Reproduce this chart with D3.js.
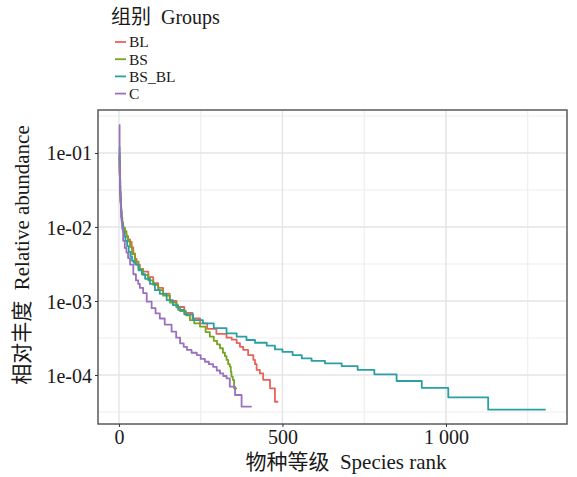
<!DOCTYPE html>
<html><head><meta charset="utf-8">
<script src="https://cdn.jsdelivr.net/npm/d3@7"></script>
<style>
html,body{margin:0;padding:0;background:#fff;}
svg text{font-family:"Liberation Serif","Times New Roman","Noto Sans CJK SC",serif;fill:#1a1a1a;white-space:pre;}
</style></head>
<body><svg id="c" width="577" height="477"></svg>
<script>
const groups = ["BL","BS","BS_BL","C"];
const colors = ["#E8625A","#73A61C","#2A9FA4","#9A70BF"];
const xTicks = [0,500,1000];
const xTickLabels = ["0","500","1 000"];
const xMinor = [250,750,1250];
const yTicks = [1e-1,1e-2,1e-3,1e-4];
const yTickLabels = ["1e-01","1e-02","1e-03","1e-04"];
const yMinor = [Math.pow(10,-0.5),Math.pow(10,-1.5),Math.pow(10,-2.5),Math.pow(10,-3.5),Math.pow(10,-4.5)];

// [rank, relative abundance] (value holds until next rank)
const BL = [[1,0.09],[2,0.05],[3,0.035],[4,0.026],[5,0.021],[6,0.017],[8,0.013],[10,0.011],[13,0.0095],[18,0.0082],[23,0.0074],[28,0.0068],[34,0.0063],[39,0.0053],[44,0.0044],[49,0.0037],[54,0.0031],[64,0.0027],[74,0.0025],[90,0.0021],[105,0.00174],[120,0.0015],[135,0.00126],[155,0.001],[176,0.00083],[200,0.00069],[225,0.00058],[248,0.0005],[270,0.00042],[298,0.00036],[329,0.00032],[345,0.0003],[360,0.00027],[370,0.00024],[380,0.000218],[395,0.000186],[411,0.00016],[416,0.00014],[421,0.000117],[431,0.000105],[441,0.000086],[462,0.000066],[477,0.0000435],[487,0.0000435]];
const BS = [[1,0.1],[2,0.055],[3,0.037],[4,0.027],[5,0.022],[6,0.018],[7,0.0155],[8,0.0135],[10,0.0115],[13,0.0098],[18,0.0088],[23,0.0075],[28,0.0064],[34,0.0054],[40,0.0043],[49,0.0034],[60,0.0027],[74,0.00225],[90,0.0019],[105,0.00165],[120,0.0014],[135,0.00118],[156,0.00095],[176,0.00082],[187,0.00073],[205,0.00064],[217,0.00055],[230,0.0005],[248,0.00045],[265,0.00038],[278,0.00033],[290,0.00029],[300,0.00026],[309,0.00023],[318,0.0002],[324,0.00018],[329,0.00016],[334,0.00014],[339,0.00013],[342,0.00011],[344,0.000095],[348,0.000086],[352,0.000066],[361,0.000066]];
const BS_BL = [[1,0.12],[2,0.065],[3,0.042],[4,0.03],[5,0.024],[6,0.019],[7,0.016],[8,0.0135],[10,0.0105],[13,0.0085],[16,0.0074],[20,0.0065],[25,0.0055],[30,0.0046],[35,0.004],[40,0.0035],[45,0.0033],[50,0.0031],[60,0.0026],[70,0.0023],[80,0.002],[95,0.0017],[110,0.0014],[125,0.00125],[146,0.00103],[165,0.00088],[181,0.00076],[200,0.00066],[227,0.00055],[257,0.0005],[290,0.00043],[329,0.000366],[360,0.00033],[390,0.000297],[416,0.000273],[452,0.000249],[477,0.000222],[500,0.000206],[531,0.000186],[559,0.000168],[589,0.000155],[630,0.000144],[681,0.000132],[730,0.000117],[781,0.000102],[849,0.000083],[926,0.000067],[1007,0.00005],[1129,0.000034],[1305,0.000034]];
const C = [[1,0.24],[2,0.08],[3,0.045],[4,0.03],[5,0.022],[6,0.017],[7,0.014],[8,0.012],[10,0.0095],[13,0.0065],[18,0.0052],[23,0.0045],[28,0.0038],[34,0.0031],[44,0.0023],[52,0.0019],[59,0.0017],[64,0.0015],[74,0.00128],[85,0.00098],[100,0.0008],[112,0.00068],[125,0.00058],[140,0.00048],[161,0.000385],[175,0.00032],[187,0.000268],[198,0.00024],[208,0.000218],[222,0.0002],[238,0.000186],[250,0.000165],[263,0.000151],[275,0.00014],[288,0.000129],[299,0.000115],[309,0.000105],[319,0.000097],[329,0.00009],[339,0.0000695],[355,0.0000537],[375,0.0000373],[406,0.0000373]];
const seriesData = [BL, BS, BS_BL, C];

const svg = d3.select("#c");
const L=98, R=567, T=110, B=424;
const x = d3.scaleLinear().domain([-64,1370]).range([L,R]);
const y = d3.scaleLog().domain([Math.pow(10,-4.662),Math.pow(10,-0.419)]).range([B,T]);

// grid
const g = svg.append("g");
g.selectAll(".xm").data(xMinor).enter().append("line")
  .attr("x1",d=>x(d)).attr("x2",d=>x(d)).attr("y1",T).attr("y2",B)
  .attr("stroke","#ededf0").attr("stroke-width",1.1);
g.selectAll(".ym").data(yMinor).enter().append("line")
  .attr("y1",d=>y(d)).attr("y2",d=>y(d)).attr("x1",L).attr("x2",R)
  .attr("stroke","#ededf0").attr("stroke-width",1.1);
g.selectAll(".xM").data(xTicks).enter().append("line")
  .attr("x1",d=>x(d)).attr("x2",d=>x(d)).attr("y1",T).attr("y2",B)
  .attr("stroke","#e4e4e8").attr("stroke-width",1.4);
g.selectAll(".yM").data(yTicks).enter().append("line")
  .attr("y1",d=>y(d)).attr("y2",d=>y(d)).attr("x1",L).attr("x2",R)
  .attr("stroke","#e4e4e8").attr("stroke-width",1.4);

// lines
const line = d3.line().x(d=>x(d[0])).y(d=>y(d[1])).curve(d3.curveStepAfter);
seriesData.forEach((s,i)=>{
  svg.append("path").datum(s).attr("d",line).attr("fill","none")
    .attr("stroke",colors[i]).attr("stroke-width",1.8).attr("stroke-linejoin","round");
});

// border
svg.append("rect").attr("x",L).attr("y",T).attr("width",R-L).attr("height",B-T)
  .attr("fill","none").attr("stroke","#5a5a5f").attr("stroke-width",1.5);

// axes
const xAxis = d3.axisBottom(x).tickValues(xTicks).tickFormat((d,i)=>xTickLabels[i]).tickSize(3).tickPadding(3);
const xa = svg.append("g").attr("transform",`translate(0,${B})`).call(xAxis);
xa.select(".domain").remove();
xa.selectAll("line").attr("stroke","#333");
xa.selectAll("text").attr("font-size",20).attr("fill","#1a1a1a")
  .style("font-family","'Liberation Serif',serif").style("white-space","pre");

const yAxis = d3.axisLeft(y).tickValues(yTicks).tickFormat((d,i)=>yTickLabels[i]).tickSize(3).tickPadding(3);
const ya = svg.append("g").attr("transform",`translate(${L},0)`).call(yAxis);
ya.select(".domain").remove();
ya.selectAll("line").attr("stroke","#333");
ya.selectAll("text").attr("font-size",20).attr("fill","#1a1a1a").attr("dy","0.35em")
  .style("font-family","'Liberation Serif',serif");

// axis titles
svg.append("text").attr("x",346).attr("y",469).attr("text-anchor","middle")
  .attr("font-size",21).text("物种等级  Species rank");
svg.append("text").attr("transform","translate(29,255) rotate(-90)").attr("text-anchor","middle")
  .attr("font-size",21).text("相对丰度  Relative abundance");

// legend
svg.append("text").attr("x",111).attr("y",24).attr("font-size",20).text("组别  Groups");
const lg = svg.append("g");
const legY = i => 42 + i*17.2;
groups.forEach((gname,i)=>{
  lg.append("line").attr("x1",115).attr("x2",126).attr("y1",legY(i)).attr("y2",legY(i))
    .attr("stroke",colors[i]).attr("stroke-width",1.8);
  lg.append("text").attr("x",129).attr("y",legY(i)).attr("dy","0.35em")
    .attr("font-size",15.5).text(gname);
});
</script></body></html>
